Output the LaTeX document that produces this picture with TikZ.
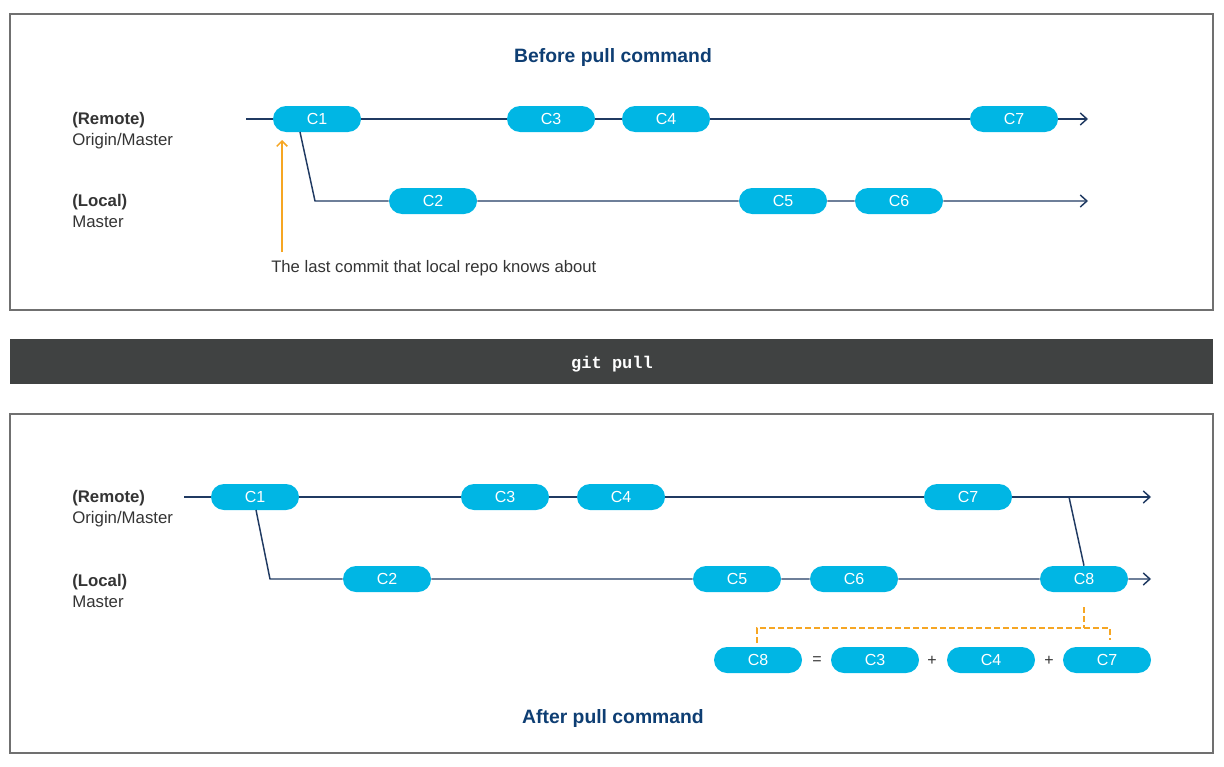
\documentclass[tikz,border=0pt]{standalone}
\usepackage{fontspec}
\setmainfont{Liberation Sans}
\setmonofont{Liberation Mono}
\usetikzlibrary{arrows.meta}
\definecolor{commitblue}{RGB}{0,182,228}
\definecolor{linenavy}{RGB}{32,58,98}
\definecolor{notegold}{RGB}{246,166,35}
\definecolor{titleblue}{RGB}{14,62,115}
\definecolor{framegray}{RGB}{112,112,112}
\definecolor{bardark}{RGB}{64,66,66}
\definecolor{textgray}{RGB}{52,52,52}

\begin{document}
\begin{tikzpicture}[x=0.75pt,y=-0.75pt,
        commit/.style={fill=commitblue,text=white,rounded corners=9.75pt,minimum width=66pt,minimum height=19.5pt,inner sep=0pt,font=\fontsize{12}{13}\selectfont},
        branch/.style={draw=linenavy,line width=1.1pt},
        tip/.style={-{Straight Barb[length=5pt,width=9pt]}},
        rowlabel/.style={anchor=west,align=left,inner sep=0pt,text=textgray,font=\fontsize{12.6}{15.75}\selectfont},
        heading/.style={text=titleblue,font=\bfseries\fontsize{14.5}{16}\selectfont},
        sign/.style={text=textgray,font=\fontsize{12}{13}\selectfont},
        panel/.style={draw=framegray,line width=0.8pt}]
        \useasboundingbox (0,0) rectangle (1224,767);
        \draw [panel] (10,14) rectangle (1213,310);
        \fill [bardark] (10,339) rectangle (1213,384);
        \draw [panel] (10,414) rectangle (1213,753);
        \node [text=white,font=\ttfamily\bfseries\fontsize{12.75}{14}\selectfont] (gitpull) at (612,364) {git pull};
        \node [heading] (before) at (613,58) {Before pull command};
        \node [rowlabel] (bremote) at (72,131) {\textbf{(Remote)}\\Origin/Master};
        \node [rowlabel] (blocal) at (72,211) {\textbf{(Local)}\\Master};
        \node [commit] (bc1) at (317,119) {C1};
        \node [commit] (bc3) at (551,119) {C3};
        \node [commit] (bc4) at (666,119) {C4};
        \node [commit] (bc7) at (1014,119) {C7};
        \node [commit] (bc2) at (433,201) {C2};
        \node [commit] (bc5) at (783,201) {C5};
        \node [commit] (bc6) at (899,201) {C6};
        \coordinate (bstart) at (246,119);
        \coordinate (bend) at (1088,119);
        \coordinate (bfork) at (300,132);
        \coordinate (bknee) at (315,201);
        \coordinate (blend) at (1088,201);
        \draw [branch,tip] (bstart) -- (bc1) -- (bc3) -- (bc4) -- (bc7) -- (bend);
        \draw [branch,tip] (bfork) -- (bknee) -- (bc2) -- (bc5) -- (bc6) -- (blend);
        \node [anchor=west,inner sep=0pt,text=textgray,font=\fontsize{12.5}{14}\selectfont] (lastnote) at (271,268) {The last commit that local repo knows about};
        \coordinate (notefoot) at (282,252);
        \coordinate (notehead) at (282,140);
        \draw [notegold,line width=1.1pt,-{Straight Barb[length=4pt,width=8pt]}] (notefoot) -- (notehead);
        \node [rowlabel] (aremote) at (72,509) {\textbf{(Remote)}\\Origin/Master};
        \node [rowlabel] (alocal) at (72,591) {\textbf{(Local)}\\Master};
        \node [commit] (ac1) at (255,497) {C1};
        \node [commit] (ac3) at (505,497) {C3};
        \node [commit] (ac4) at (621,497) {C4};
        \node [commit] (ac7) at (968,497) {C7};
        \node [commit] (ac2) at (387,579) {C2};
        \node [commit] (ac5) at (737,579) {C5};
        \node [commit] (ac6) at (854,579) {C6};
        \node [commit] (ac8) at (1084,579) {C8};
        \coordinate (astart) at (184,497);
        \coordinate (aend) at (1151,497);
        \coordinate (afork) at (256,510);
        \coordinate (aknee) at (270,579);
        \coordinate (alend) at (1151,579);
        \coordinate (amerge) at (1069,497);
        \draw [branch,tip] (astart) -- (ac1) -- (ac3) -- (ac4) -- (ac7) -- (aend);
        \draw [branch,tip] (afork) -- (aknee) -- (ac2) -- (ac5) -- (ac6) -- (ac8) -- (alend);
        \draw [branch] (amerge) -- (ac8.north);
        \node [commit] (ec8) at (758,660) {C8};
        \node [sign] (equals) at (817,661) {=};
        \node [commit] (ec3) at (875,660) {C3};
        \node [sign] (plus1) at (932,661) {+};
        \node [commit] (ec4) at (991,660) {C4};
        \node [sign] (plus2) at (1049,661) {+};
        \node [commit] (ec7) at (1107,660) {C7};
        \coordinate (sumtop) at (1084,607);
        \coordinate (sumjoin) at (1084,628);
        \coordinate (sumleft) at (757,643);
        \coordinate (sumright) at (1110,640);
        \draw [notegold,line width=0.9pt,dash pattern=on 4.5pt off 2.25pt] (sumtop) -- (sumjoin);
        \draw [notegold,line width=0.9pt,dash pattern=on 4.5pt off 2.25pt] (sumleft) |- (sumjoin) -| (sumright);
        \node [heading] (after) at (613,718) {After pull command};
\end{tikzpicture}
\end{document}
